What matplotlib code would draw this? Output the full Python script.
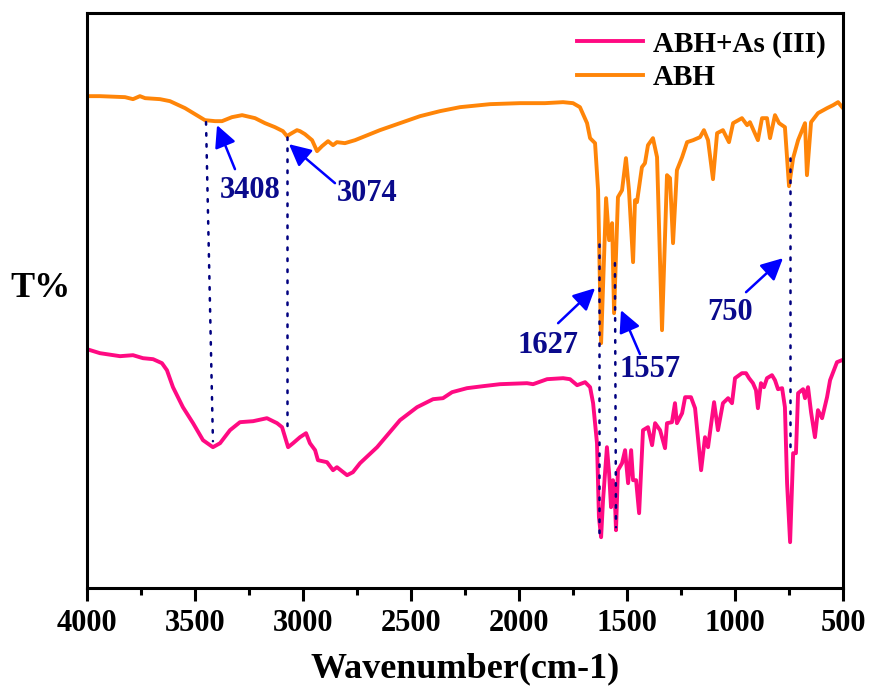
import numpy as np
import matplotlib
matplotlib.use('Agg')
from matplotlib import pyplot as plt
from matplotlib.ticker import MultipleLocator

plt.rcParams['font.family'] = ['Liberation Serif', 'DejaVu Serif']
plt.rcParams['font.weight'] = 'bold'

# ABH spectrum (wavenumber cm-1, transmittance in arbitrary units)
abh_w = [4000, 3940, 3824, 3787, 3755, 3731, 3662, 3616, 3546, 3477, 3454, 3407, 3375,
         3329, 3282, 3222, 3176, 3130, 3093, 3074, 3060, 3028, 3014, 2991, 2958, 2935,
         2912, 2884, 2861, 2843, 2806, 2759, 2713, 2644, 2551, 2458, 2366, 2273, 2134,
         1995, 1880, 1796, 1750, 1718, 1685, 1671, 1648, 1634, 1620, 1597, 1583, 1569,
         1560, 1542, 1523, 1505, 1491, 1472, 1463, 1454, 1431, 1417, 1403, 1380, 1361,
         1338, 1315, 1301, 1287, 1269, 1245, 1222, 1194, 1162, 1144, 1125, 1102, 1083,
         1056, 1028, 1009, 968, 944, 931, 894, 875, 852, 838, 815, 796, 769, 750, 731,
         708, 676, 667, 648, 616, 574, 546, 523, 500]
abh_t = [492, 492, 491, 489, 492, 490, 489, 487, 480, 471, 468, 467, 467,
         471, 473, 470, 465, 461, 457, 452, 454, 458, 457, 454, 448, 437,
         442, 447, 443, 446, 445, 448, 452, 458, 465, 472, 477, 481, 484,
         485, 485, 486, 485, 481, 465, 450, 445, 398, 245, 390, 348, 365,
         275, 391, 398, 430, 398, 326, 388, 386, 421, 425, 443, 450, 431,
         258, 413, 410, 345, 418, 431, 446, 448, 451, 458, 448, 409, 455,
         458, 446, 465, 470, 463, 466, 448, 470, 470, 450, 473, 465, 461, 402, 430,
         448, 465, 413, 466, 475, 480, 483, 486, 480]

# ABH + As(III) spectrum
abhas_w = [4000, 3940, 3847, 3787, 3741, 3694, 3653, 3630, 3602, 3556, 3509, 3463, 3417,
           3384, 3338, 3292, 3231, 3167, 3120, 3097, 3069, 3046, 3014, 2986, 2968, 2944,
           2931, 2889, 2861, 2843, 2796, 2769, 2736, 2657, 2551, 2472, 2398, 2352, 2310,
           2241, 2167, 2088, 1963, 1935, 1870, 1796, 1764, 1731, 1694, 1671, 1657, 1639,
           1630, 1620, 1611, 1593, 1583, 1574, 1565, 1556, 1551, 1542, 1523, 1509, 1495,
           1481, 1472, 1458, 1444, 1426, 1403, 1384, 1370, 1347, 1324, 1315, 1292, 1278,
           1269, 1245, 1231, 1204, 1185, 1157, 1139, 1125, 1097, 1079, 1056, 1032, 1014,
           1000, 968, 949, 935, 917, 903, 894, 880, 866, 852, 829, 815, 801, 782, 769,
           759, 745, 731, 718, 708, 685, 676, 662, 648, 630, 616, 597, 574, 560, 528, 505]
abhas_t = [239, 235, 232, 233, 230, 229, 225, 218, 201, 181, 165, 148, 141,
           145, 158, 166, 167, 170, 165, 161, 141, 145, 151, 155, 145, 138,
           128, 126, 118, 121, 113, 116, 125, 141, 168, 181, 189, 190, 196,
           200, 202, 204, 205, 204, 209, 210, 209, 203, 206, 201, 185, 145,
           71, 51, 88, 141, 115, 81, 108, 88, 58, 118, 125, 138, 105,
           138, 108, 108, 75, 158, 161, 143, 165, 158, 140, 165, 166, 185,
           165, 175, 191, 191, 180, 118, 151, 141, 186, 158, 185, 190, 185,
           210, 215, 215, 210, 205, 198, 180, 205, 201, 210, 213, 208, 199, 200, 181,
           105, 46, 135, 135, 195, 199, 190, 201, 176, 151, 178, 170, 191, 208, 226, 228]

# marked peaks: label, dotted guide (w_top, t_top, w_bot, t_bot),
# arrow tail, arrow head, text position
peak_labels = ['3408', '3074', '1627', '1557', '750']
guide_top = [(3449, 466), (3074, 451), (1630, 344), (1556, 325), (745, 430)]
guide_bot = [(3417, 147), (3074, 155), (1630, 53), (1551, 61), (745, 135)]
arrow_tail = [(3315, 419), (2852, 405), (1819, 265), (1440, 234), (949, 296)]
arrow_head = [(3398, 463), (3065, 444), (1648, 300), (1528, 278), (778, 330)]
label_pos = [(3245, 398), (2704, 395), (1866, 243), (1394, 219), (1023, 276)]

fig = plt.figure(figsize=(8.7, 6.92), dpi=100)
ax = fig.add_axes([0.1, 0.15, 0.869, 0.831])

ax.plot(abhas_w, abhas_t, color='#ff0a82', lw=2.8, label='ABH+As (III)')
ax.plot(abh_w, abh_t, color='#ff8508', lw=2.8, label='ABH')

for i in range(len(peak_labels)):
    ax.plot([guide_top[i][0], guide_bot[i][0]], [guide_top[i][1], guide_bot[i][1]],
            color='#000080', lw=1.8, linestyle=(0, (1, 3.4)), dash_capstyle='round')
    ax.annotate('', xy=arrow_head[i], xytext=arrow_tail[i],
                arrowprops=dict(arrowstyle='-|>,head_length=0.6,head_width=0.3',
                                color='#0000ff', lw=1.8,
                                mutation_scale=22, shrinkA=0, shrinkB=0))
    ax.text(label_pos[i][0], label_pos[i][1], peak_labels[i], color='#0a0a8c',
            fontsize=22, fontweight='bold', ha='center', va='center')

ax.set_xlim(4000, 500)
ax.set_ylim(0, 575)
ax.xaxis.set_major_locator(MultipleLocator(500))
ax.xaxis.set_minor_locator(MultipleLocator(250))
ax.set_yticks([])
for s in ax.spines.values():
    s.set_linewidth(2.2)
ax.tick_params(axis='x', which='major', direction='out', length=9, width=2.2,
               labelsize=22, pad=6)
ax.tick_params(axis='x', which='minor', direction='out', length=5, width=2.2)
for lab in ax.get_xticklabels():
    lab.set_fontweight('bold')

ax.set_xlabel('Wavenumber(cm-1)', fontsize=26, fontweight='bold', labelpad=10)
fig.text(0.046, 0.583, 'T%', fontsize=26, fontweight='bold', ha='center', va='center')

ax.legend(loc='upper right', frameon=False, handlelength=2.25,
          handletextpad=0.35, labelspacing=0.2, borderaxespad=0.2,
          prop={'weight': 'bold', 'size': 21})

plt.savefig('out.png', dpi=100)
